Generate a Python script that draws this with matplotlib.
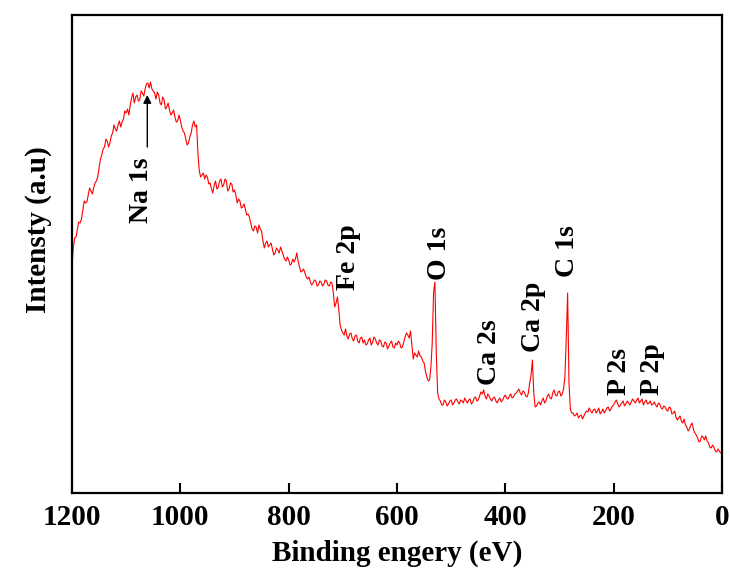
import numpy as np
import matplotlib
matplotlib.use("Agg")
import matplotlib.pyplot as plt

# XPS survey spectrum, counts (arb. units) sampled every 2.5 eV from 1200 eV down to 0 eV.
# Readings on the whole-5-eV grid: 1200, 1195, ..., 0
intensity = [
    226, 255, 264, 270, 283, 290, 298, 302, 305, 312, 325, 338, 346, 352, 350, 360, 364, 368, 366, 374,  # 1200-1105
    380, 378, 395, 390, 398, 393, 400, 404, 410, 411, 402, 394, 398, 388, 393, 386, 383, 380, 376, 372,  # 1100-1005
    373, 362, 354, 350, 360, 372, 368, 322, 318, 314, 316, 310, 300, 312, 306, 314, 308, 312, 304, 309,  # 1000-905
    303, 290, 292, 286, 284, 279, 270, 262, 266, 268, 262, 245, 252, 248, 244, 240, 243, 246, 238, 232,  # 900-805
    233, 229, 231, 240, 226, 222, 220, 214, 211, 210, 212, 208, 211, 209, 212, 207, 210, 186, 196, 168,  # 800-705
    160, 164, 154, 160, 152, 158, 150, 156, 153, 149, 155, 151, 154, 148, 152, 146, 150, 147, 152, 145,  # 700-605
    148, 150, 146, 156, 158, 162, 134, 138, 142, 136, 130, 116, 113, 150, 211, 100, 92, 88, 91, 89,      # 600-505
    93, 90, 94, 89, 92, 95, 90, 94, 91, 96, 93, 101, 103, 94, 97, 92, 96, 90, 95, 93,                    # 500-405
    98, 94, 99, 96, 100, 104, 98, 101, 96, 110, 133, 86, 90, 88, 95, 92, 99, 94, 103, 97,                # 400-305
    102, 99, 116, 200, 84, 80, 78, 75, 78, 77, 82, 85, 80, 84, 82, 79, 84, 82, 86, 84,                   # 300-205
    88, 93, 86, 90, 87, 92, 88, 94, 90, 95, 92, 88, 93, 90, 88, 91, 86, 89, 84, 86,                      # 200-105
    82, 85, 80, 76, 75, 72, 74, 66, 64, 70, 60, 55, 52, 56, 57, 50, 45, 46, 41, 42,                      # 100-5
    41,                                                                                                  # 0
]
# Readings at the half steps: 1197.5, 1192.5, ..., 2.5
intensity_half = [
    246, 256, 271, 274, 292, 291, 305, 299, 310, 316, 334, 344, 354, 346, 357, 368, 362, 372, 371, 382,  # 1197.5-1102.5
    384, 388, 400, 396, 392, 402, 397, 409, 405, 404, 400, 401, 390, 396, 384, 390, 378, 383, 371, 378,  # 1097.5-1002.5
    366, 360, 348, 356, 368, 366, 340, 316, 320, 318, 309, 304, 308, 304, 312, 306, 314, 302, 310, 301,  # 997.5-902.5
    298, 294, 285, 289, 278, 276, 264, 267, 260, 264, 252, 250, 246, 250, 238, 245, 240, 242, 234, 236,  # 897.5-802.5
    228, 234, 234, 232, 221, 224, 216, 216, 208, 213, 207, 212, 207, 213, 208, 211, 200, 190, 184, 163,  # 797.5-702.5
    158, 157, 159, 154, 157, 152, 155, 150, 148, 153, 148, 156, 150, 153, 147, 151, 144, 150, 146, 150,  # 697.5-602.5
    152, 145, 151, 160, 155, 148, 140, 136, 137, 132, 122, 112, 125, 200, 140, 94, 88, 93, 87, 92,       # 597.5-502.5
    88, 93, 91, 93, 90, 92, 93, 89, 95, 92, 97, 99, 97, 99, 94, 95, 92, 93, 91, 96,                      # 497.5-402.5
    95, 97, 95, 99, 102, 100, 102, 97, 100, 118, 100, 87, 91, 92, 90, 97, 95, 100, 98, 101,              # 397.5-302.5
    97, 104, 155, 110, 80, 77, 80, 77, 74, 80, 81, 82, 83, 80, 85, 81, 80, 85, 82, 87,                   # 297.5-202.5
    91, 89, 88, 92, 89, 90, 91, 92, 93, 90, 94, 91, 89, 92, 89, 88, 90, 85, 87, 83,                      # 197.5-102.5
    86, 79, 82, 73, 77, 70, 68, 62, 68, 63, 58, 51, 57, 53, 52, 46, 48, 42, 44, 40,                      # 97.5-2.5
]

# Peak assignments: label, label x (eV), label base (counts)
peak_labels = ["Na 1s", "Fe 2p", "O 1s", "Ca 2s", "Ca 2p", "C 1s", "P 2s", "P 2p"]
peak_label_x = [1071, 689, 522, 430, 348, 285, 190, 128]
peak_label_y = [270, 203, 213, 108, 141, 216, 98, 98]

x_ticks = [1200, 1000, 800, 600, 400, 200, 0]

# Assemble the full 2.5 eV series
binding_energy = np.linspace(1200, 0, len(intensity) + len(intensity_half))
counts = np.empty(binding_energy.size)
counts[0::2] = intensity
counts[1::2] = intensity_half

plt.rcParams["font.family"] = ["Liberation Serif", "DejaVu Serif"]
plt.rcParams["font.weight"] = "bold"

fig = plt.figure(figsize=(7.30, 5.73), dpi=100)
ax = fig.add_axes([72 / 730, 1 - 493 / 573, 650 / 730, (493 - 14.5) / 573])

ax.plot(binding_energy, counts, color="#ff0000", lw=0.8)

ax.set_xlim(1200, 0)
ax.set_ylim(0, 478.5)
ax.set_xticks(x_ticks)
ax.set_xticklabels([str(t) for t in x_ticks])
ax.set_yticks([])
ax.tick_params(axis="x", direction="in", length=7.5, width=1.5, pad=8,
               labelsize=21, top=False)
for lbl in ax.get_xticklabels():
    lbl.set_fontweight("bold")
for sp in ax.spines.values():
    sp.set_linewidth(1.6)

ax.set_xlabel("Binding engery (eV)", fontsize=21, fontweight="bold", labelpad=6)
ax.set_ylabel("Intensty (a.u)", fontsize=21, fontweight="bold")
ax.yaxis.set_label_coords(-0.031, 0.55)

for text, px, py in zip(peak_labels, peak_label_x, peak_label_y):
    ax.text(px, py, text, rotation=90, ha="center", va="bottom",
            fontsize=20, fontweight="bold", color="black")

# Arrow pointing to the Na 1s maximum
ax.annotate("", xy=(1061, 398), xytext=(1061, 346),
            arrowprops=dict(arrowstyle="-|>", color="black", lw=1.0,
                            mutation_scale=12, shrinkA=0, shrinkB=0))

fig.savefig("out.png", dpi=100, facecolor="white")
